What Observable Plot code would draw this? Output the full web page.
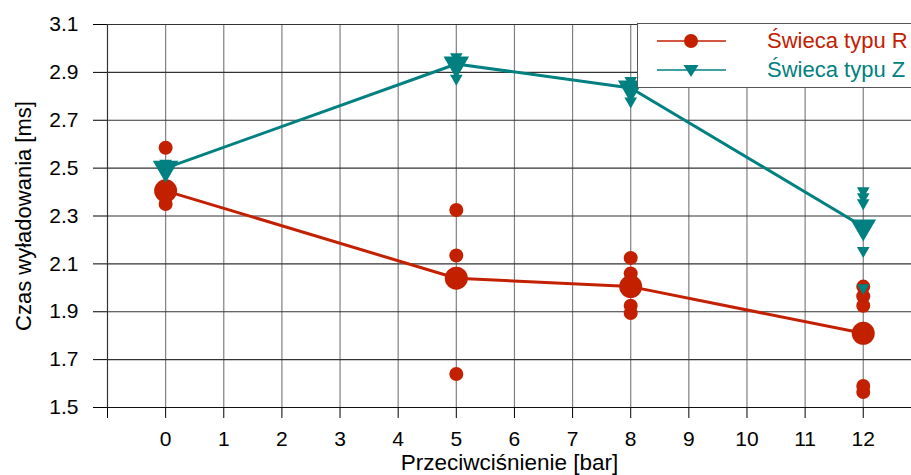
<!DOCTYPE html>
<html>
<head>
<meta charset="utf-8">
<script src="https://cdn.jsdelivr.net/npm/d3@7"></script>
<script src="https://cdn.jsdelivr.net/npm/@observablehq/plot@0.6"></script>
<style>
  html, body { margin: 0; padding: 0; background: #fff; }
  #wrap { position: relative; width: 911px; height: 475px; overflow: hidden; font-family: "Liberation Sans", Arial, sans-serif; }
  #legend { position: absolute; left: 637px; top: 23px; width: 300px; height: 65px; background: #fff; border: 1px solid #555; box-sizing: border-box; }
  .item { position: absolute; left: 0; height: 28px; display: flex; align-items: center; font-size: 22px; white-space: nowrap; }
  .item svg { margin-left: 19px; margin-right: 41px; }
</style>
</head>
<body>
<div id="wrap"></div>
<script>
// ---- data ----
const pressure = [0, 5, 8, 12];
const meanR = [2.405, 2.04, 2.005, 1.81];
const meanZ = [2.50, 2.935, 2.835, 2.255];
const rawRx = [0, 0, 0, 0, 5, 5, 5, 5, 8, 8, 8, 8, 8, 12, 12, 12, 12, 12];
const rawRy = [2.585, 2.35, 2.38, 2.42, 2.325, 2.135, 2.05, 1.64, 2.125, 2.06, 2.03, 1.925, 1.895, 2.005, 1.965, 1.925, 1.59, 1.565];
const rawZx = [0, 0, 0, 5, 5, 5, 8, 8, 8, 12, 12, 12, 12, 12];
const rawZy = [2.52, 2.48, 2.50, 2.965, 2.94, 2.875, 2.865, 2.84, 2.78, 2.405, 2.38, 2.355, 2.155, 2.0];
const xTicks = [-1, 0, 1, 2, 3, 4, 5, 6, 7, 8, 9, 10, 11, 12];
const yTicks = [1.5, 1.7, 1.9, 2.1, 2.3, 2.5, 2.7, 2.9, 3.1];
const seriesNames = ["Świeca typu R", "Świeca typu Z"];
const xTitle = "Przeciwciśnienie [bar]";
const yTitle = "Czas wyładowania [ms]";
const colR = "#C32000";
const colZ = "#008080";

const meansR = pressure.map((p, i) => ({x: p, y: meanR[i]}));
const meansZ = pressure.map((p, i) => ({x: p, y: meanZ[i]}));
const rawR = rawRx.map((p, i) => ({x: p, y: rawRy[i]}));
const rawZ = rawZx.map((p, i) => ({x: p, y: rawZy[i]}));

const chart = Plot.plot({
  width: 911,
  height: 475,
  marginLeft: 107,
  marginTop: 24,
  marginBottom: 68,
  marginRight: 0,
  style: {fontSize: "21px", fontFamily: "'Liberation Sans', Arial, sans-serif", color: "#000", background: "#fff", overflow: "visible"},
  x: {
    domain: [-1, 12.83],
    ticks: xTicks,
    tickFormat: d => d < 0 ? "" : String(d),
    tickSize: 11,
    tickPadding: 13,
    label: null
  },
  y: {
    domain: [1.5, 3.1],
    ticks: yTicks,
    tickFormat: d => d.toFixed(1),
    tickSize: 14,
    tickPadding: 15,
    label: null
  },
  marks: [
    Plot.ruleX(xTicks.filter(d => d >= 0), {stroke: "#808080", strokeWidth: 1.2, strokeOpacity: 1}),
    Plot.ruleY(yTicks.filter(d => d > 1.5), {stroke: "#333", strokeWidth: 1.2, strokeOpacity: 1}),
    Plot.ruleX([-1], {stroke: "#333", strokeWidth: 1.2}),
    Plot.ruleY([1.5], {stroke: "#111", strokeWidth: 1.2}),
    // series R
    Plot.line(meansR, {x: "x", y: "y", stroke: colR, strokeWidth: 3}),
    Plot.dot(rawR, {x: "x", y: "y", r: 7, fill: colR, stroke: "none"}),
    Plot.dot(meansR, {x: "x", y: "y", r: 11.5, fill: colR, stroke: "none"}),
    // series Z
    Plot.line(meansZ, {x: "x", y: "y", stroke: colZ, strokeWidth: 3}),
    Plot.dot(rawZ, {x: "x", y: "y", symbol: "triangle", rotate: 180, r: 4.7, fill: colZ, stroke: "none"}),
    Plot.dot(meansZ, {x: "x", y: "y", symbol: "triangle", rotate: 180, r: 9.5, fill: colZ, stroke: "none"}),
    // axis titles
    Plot.text([xTitle], {frameAnchor: "bottom", dy: 62, fontSize: 22.5, fill: "#000", textAnchor: "middle"}),
    Plot.text([yTitle], {frameAnchor: "left", dx: -84, rotate: -90, fontSize: 22, fill: "#000", textAnchor: "middle"})
  ]
});

const wrap = document.getElementById("wrap");
wrap.appendChild(chart);

// legend
const legend = document.createElement("div");
legend.id = "legend";
const mk = (name, color, kind, top) => {
  const item = document.createElement("div");
  item.className = "item";
  item.style.top = top + "px";
  item.style.color = color;
  const marker = kind === "circle"
    ? `<circle cx="34" cy="10" r="7" fill="${color}"/>`
    : `<path d="M26.5,5 L41.5,5 L34,17 Z" fill="${color}"/>`;
  item.innerHTML = `<svg width="69" height="20"><line x1="0" x2="69" y1="10" y2="10" stroke="${color}" stroke-width="1.3"/>${marker}</svg><span>${name}</span>`;
  legend.appendChild(item);
};
mk(seriesNames[0], colR, "circle", 3);
mk(seriesNames[1], colZ, "triangle", 32);
wrap.appendChild(legend);
</script>
</body>
</html>
